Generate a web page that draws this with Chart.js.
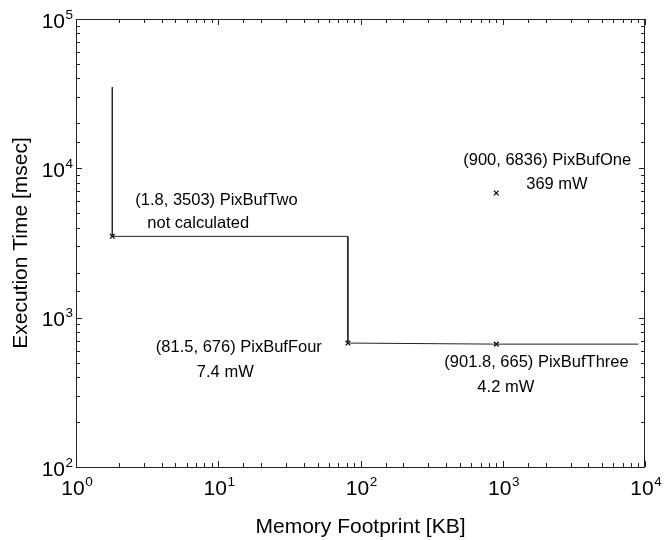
<!DOCTYPE html>
<html>
<head>
<meta charset="utf-8">
<script src="https://cdn.jsdelivr.net/npm/chart.js@4.4.1/dist/chart.umd.min.js"></script>
<style>
  html, body { margin: 0; padding: 0; background: #fff; }
  #wrap { width: 664px; height: 540px; }
</style>
</head>
<body>
<div id="wrap"><canvas id="chart" width="664" height="540"></canvas></div>
<script>
// Memory footprint vs execution time, log-log

// step line (memory KB, time msec)
const stepX = [1.8, 1.8, 81.5, 81.5, 901.8, 9000];
const stepY = [35000, 3503, 3503, 676, 665, 665];

// marked points
const markNames = ['PixBufTwo', 'PixBufFour', 'PixBufOne', 'PixBufThree'];
const markX = [1.8, 81.5, 900, 901.8];
const markY = [3503, 676, 6836, 665];
const markPower = ['not calculated', '7.4 mW', '369 mW', '4.2 mW'];

// axis ranges
const xRange = [1, 10000];
const yRange = [100, 100000];

// label placement relative to each marked point (pixels): [dx1, dy1, dx2, dy2]
const labelOffsets = [
  [23, -36, 35, -13],
  [-192, 4, -151, 29],
  [-33, -33, 30, -9],
  [-52, 18, -19, 43]
];

const FONT = "'Liberation Sans', Arial, Helvetica, sans-serif";

function exponentOf(value) {
  const e = Math.log10(value);
  const r = Math.round(e);
  return Math.abs(e - r) < 1e-9 ? r : null;
}

// draws 10 with a raised exponent; (x, base) = left edge and baseline
function drawPow(ctx, e, x, base) {
  ctx.font = '21px ' + FONT;
  ctx.fillText('10', x, base);
  const w = ctx.measureText('10').width;
  ctx.font = '13.5px ' + FONT;
  ctx.fillText(String(e), x + w + 0.5, base - 9);
}
function powWidth(ctx, e) {
  ctx.font = '21px ' + FONT;
  const w = ctx.measureText('10').width;
  ctx.font = '13.5px ' + FONT;
  return w + 0.5 + ctx.measureText(String(e)).width;
}

// box + inward ticks on all four sides, tick labels and point labels
const framePlugin = {
  id: 'frame',
  afterDatasetsDraw(chart) {
    const ctx = chart.ctx;
    const a = chart.chartArea;
    const xs = chart.scales.x, ys = chart.scales.y;
    ctx.save();
    ctx.strokeStyle = '#222';
    ctx.lineWidth = 1;
    ctx.strokeRect(Math.round(a.left) + 0.5, Math.round(a.top) + 0.5,
      Math.round(a.right - a.left) - 1, Math.round(a.bottom - a.top));
    ctx.beginPath();
    xs.ticks.forEach(t => {
      const len = exponentOf(t.value) !== null ? 6 : 4;
      const px = Math.round(xs.getPixelForValue(t.value)) + 0.5;
      ctx.moveTo(px, a.bottom); ctx.lineTo(px, a.bottom - len);
      ctx.moveTo(px, a.top); ctx.lineTo(px, a.top + len);
    });
    ys.ticks.forEach(t => {
      const len = exponentOf(t.value) !== null ? 6 : 4;
      const py = Math.round(ys.getPixelForValue(t.value)) + 0.5;
      ctx.moveTo(a.left, py); ctx.lineTo(a.left + len, py);
      ctx.moveTo(a.right, py); ctx.lineTo(a.right - len, py);
    });
    ctx.stroke();

    // tick labels
    ctx.fillStyle = '#000';
    ctx.textAlign = 'left';
    ctx.textBaseline = 'alphabetic';
    xs.ticks.forEach(t => {
      const e = exponentOf(t.value);
      if (e === null) return;
      const px = xs.getPixelForValue(t.value);
      const w = powWidth(ctx, e);
      drawPow(ctx, e, px - w / 2 + 1, a.bottom + 28);
    });
    ys.ticks.forEach(t => {
      const e = exponentOf(t.value);
      if (e === null) return;
      const py = ys.getPixelForValue(t.value);
      const w = powWidth(ctx, e);
      drawPow(ctx, e, a.left - 3 - w, py + 8.5);
    });

    // text labels next to the points
    ctx.font = '16.5px ' + FONT;
    ctx.textBaseline = 'middle';
    markNames.forEach((n, i) => {
      const px = xs.getPixelForValue(markX[i]);
      const py = ys.getPixelForValue(markY[i]);
      const o = labelOffsets[i];
      ctx.fillText('(' + markX[i] + ', ' + markY[i] + ') ' + n, px + o[0], py + o[1]);
      ctx.fillText(markPower[i], px + o[2], py + o[3]);
    });
    ctx.restore();
  }
};

new Chart(document.getElementById('chart'), {
  type: 'scatter',
  data: {
    datasets: [
      {
        type: 'line',
        data: stepX.map((x, i) => ({ x: x, y: stepY[i] })),
        borderColor: '#222',
        borderWidth: 1,
        pointRadius: 0,
        fill: false,
        tension: 0
      },
      {
        data: markX.map((x, i) => ({ x: x, y: markY[i] })),
        pointStyle: 'crossRot',
        pointRadius: 3.3,
        borderColor: '#000',
        borderWidth: 1.2,
        backgroundColor: '#000'
      }
    ]
  },
  options: {
    responsive: false,
    animation: false,
    layout: { padding: { top: 19, right: 19, left: 0, bottom: 0 } },
    plugins: { legend: { display: false }, tooltip: { enabled: false } },
    scales: {
      x: {
        type: 'logarithmic',
        min: xRange[0], max: xRange[1],
        grid: { display: false },
        border: { display: false },
        ticks: { display: false, autoSkip: false },
        title: {
          display: true, text: 'Memory Footprint [KB]', color: '#000',
          font: { family: FONT, size: 21 }, padding: { top: 0, bottom: 0 }
        },
        afterFit(scale) { scale.height = 73; scale.paddingLeft = 0; scale.paddingRight = 0; }
      },
      y: {
        type: 'logarithmic',
        min: yRange[0], max: yRange[1],
        grid: { display: false },
        border: { display: false },
        ticks: { display: false, autoSkip: false },
        title: {
          display: true, text: 'Execution Time [msec]', color: '#000',
          font: { family: FONT, size: 21 }, padding: { top: 9, bottom: 0 }
        },
        afterFit(scale) { scale.width = 76; scale.paddingTop = 0; scale.paddingBottom = 0; }
      }
    }
  },
  plugins: [framePlugin]
});
</script>
</body>
</html>
